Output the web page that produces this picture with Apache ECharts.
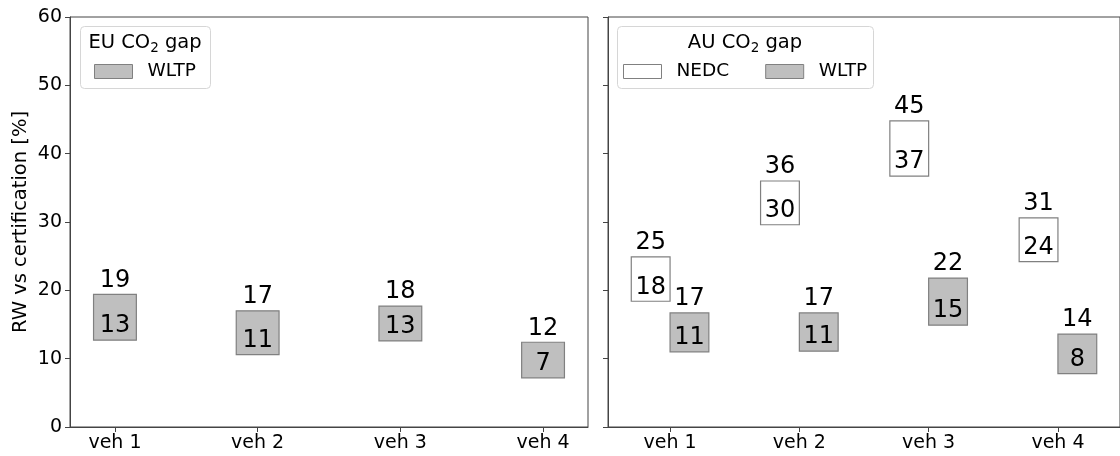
<!DOCTYPE html>
<html>
<head>
<meta charset="utf-8">
<script src="https://cdn.jsdelivr.net/npm/echarts@6/dist/echarts.min.js"></script>
<style>
html,body{margin:0;padding:0;background:#fff;}
#chart{width:1120px;height:456px;}
</style>
</head>
<body>
<div id="chart"></div>
<script>
// ---- data ----
var categories = ['veh 1', 'veh 2', 'veh 3', 'veh 4'];
var euWltpLow  = [12.7, 10.6, 12.6, 7.2];
var euWltpHigh = [19.4, 17.0, 17.7, 12.4];
var auNedcLow  = [18.4, 29.6, 36.7, 24.2];
var auNedcHigh = [24.9, 36.0, 44.8, 30.6];
var auWltpLow  = [11.0, 11.1, 14.9, 7.8];
var auWltpHigh = [16.7, 16.7, 21.8, 13.6];
var yTicks = [0, 10, 20, 30, 40, 50, 60];

var FONT = 'DejaVu Sans';
var LINE = '#444';
var WLTP_FILL = '#bfbfbf', EDGE = '#808080', NEDC_FILL = '#ffffff';

function makeData(low, high, offset) {
  return categories.map(function (c, i) { return [i + offset, low[i], high[i]]; });
}

function boxRenderer(fill) {
  return function (params, api) {
    var x = api.value(0), lo = api.value(1), hi = api.value(2);
    var w = 0.3;
    var p1 = api.coord([x - w / 2, hi]);
    var p2 = api.coord([x + w / 2, lo]);
    var cx = (p1[0] + p2[0]) / 2;
    return {
      type: 'group',
      children: [
        { type: 'rect', shape: { x: p1[0], y: p1[1], width: p2[0] - p1[0], height: p2[1] - p1[1] },
          style: { fill: fill, stroke: EDGE, lineWidth: 1.2 } },
        { type: 'text', x: cx, y: p1[1] - 2,
          style: { text: String(Math.round(hi)), fontSize: 24, fontFamily: FONT, fill: '#000', align: 'center', verticalAlign: 'bottom' } },
        { type: 'text', x: cx, y: p2[1] - 2,
          style: { text: String(Math.round(lo)), fontSize: 24, fontFamily: FONT, fill: '#000', align: 'center', verticalAlign: 'bottom' } }
      ]
    };
  };
}

var xTickVals = categories.map(function (c, i) { return i; });

function xAxisCfg(grid, min, max) {
  return {
    type: 'value', gridIndex: grid, min: min, max: max,
    splitLine: { show: false },
    axisLine: { show: true, onZero: false, lineStyle: { color: LINE, width: 1 } },
    axisTick: { show: true, customValues: xTickVals, length: 5, lineStyle: { color: LINE } },
    axisLabel: { show: true, customValues: xTickVals, margin: 7, fontSize: 19, fontFamily: FONT, color: '#000',
      formatter: function (v) { return categories[Math.round(v)]; } }
  };
}
function yAxisCfg(grid, showLabel) {
  var cfg = {
    type: 'value', gridIndex: grid, min: yTicks[0], max: yTicks[yTicks.length - 1], interval: 10,
    splitLine: { show: false },
    axisLine: { show: true, onZero: false, lineStyle: { color: LINE, width: 1 } },
    axisTick: { show: true, length: 5, lineStyle: { color: LINE } },
    axisLabel: { show: showLabel, margin: 8, fontSize: 19, fontFamily: FONT, color: '#000' }
  };
  if (showLabel) {
    cfg.name = 'RW vs certification [%]';
    cfg.nameLocation = 'middle';
    cfg.nameGap = 39;
    cfg.nameTextStyle = { fontSize: 19.5, fontFamily: FONT, color: '#000' };
  }
  return cfg;
}

var legendText = { fontSize: 18.5, fontFamily: FONT, color: '#000', padding: [0, 0, 0, 10] };
var titleRich = { s: { fontSize: 13.5, fontFamily: FONT, padding: [10, 0, 0, 0] } };

var chart = echarts.init(document.getElementById('chart'), null, { renderer: 'canvas' });
var option = {
  backgroundColor: '#fff',
  animation: false,
  grid: [
    { left: 70, top: 17, width: 518, height: 410, show: true, borderColor: LINE, borderWidth: 1, backgroundColor: 'transparent' },
    { left: 608, top: 17, width: 518, height: 410, show: true, borderColor: LINE, borderWidth: 1, backgroundColor: 'transparent' }
  ],
  xAxis: [ xAxisCfg(0, -0.315, 3.315), xAxisCfg(1, -0.48, 3.48) ],
  yAxis: [ yAxisCfg(0, true), yAxisCfg(1, false) ],
  legend: [
    { left: 94, top: 62, padding: 0, itemWidth: 38, itemHeight: 14, itemGap: 36,
      selectedMode: false, textStyle: legendText,
      data: [{ name: 'WLTP', icon: 'rect', itemStyle: { color: WLTP_FILL, borderColor: EDGE, borderWidth: 1 } }] },
    { left: 623, top: 62, padding: 0, itemWidth: 38, itemHeight: 14, itemGap: 36,
      selectedMode: false, textStyle: legendText,
      data: [
        { name: 'NEDC', icon: 'rect', itemStyle: { color: NEDC_FILL, borderColor: EDGE, borderWidth: 1 } },
        { name: 'WLTP ', icon: 'rect', itemStyle: { color: WLTP_FILL, borderColor: EDGE, borderWidth: 1 } }
      ] }
  ],
  graphic: [
    { type: 'rect', left: 80, top: 26, z: 0,
      shape: { width: 130, height: 62, r: 4 }, style: { fill: 'rgba(255,255,255,0.8)', stroke: '#d6d6d6', lineWidth: 1 } },
    { type: 'text', z: 1, x: 145, y: 43,
      style: { text: 'EU CO{s|2} gap', rich: titleRich,
        fontSize: 19.5, fontFamily: FONT, fill: '#000', align: 'center', verticalAlign: 'middle' } },
    { type: 'rect', left: 617, top: 26, z: 0,
      shape: { width: 256, height: 62, r: 4 }, style: { fill: 'rgba(255,255,255,0.8)', stroke: '#d6d6d6', lineWidth: 1 } },
    { type: 'text', z: 1, x: 745, y: 43,
      style: { text: 'AU CO{s|2} gap', rich: titleRich,
        fontSize: 19.5, fontFamily: FONT, fill: '#000', align: 'center', verticalAlign: 'middle' } }
  ],
  series: [
    { name: 'WLTP', type: 'custom', xAxisIndex: 0, yAxisIndex: 0, clip: false,
      renderItem: boxRenderer(WLTP_FILL), data: makeData(euWltpLow, euWltpHigh, 0) },
    { name: 'NEDC', type: 'custom', xAxisIndex: 1, yAxisIndex: 1, clip: false,
      renderItem: boxRenderer(NEDC_FILL), data: makeData(auNedcLow, auNedcHigh, -0.15) },
    { name: 'WLTP ', type: 'custom', xAxisIndex: 1, yAxisIndex: 1, clip: false,
      renderItem: boxRenderer(WLTP_FILL), data: makeData(auWltpLow, auWltpHigh, 0.15) }
  ]
};
chart.setOption(option);
</script>
</body>
</html>
